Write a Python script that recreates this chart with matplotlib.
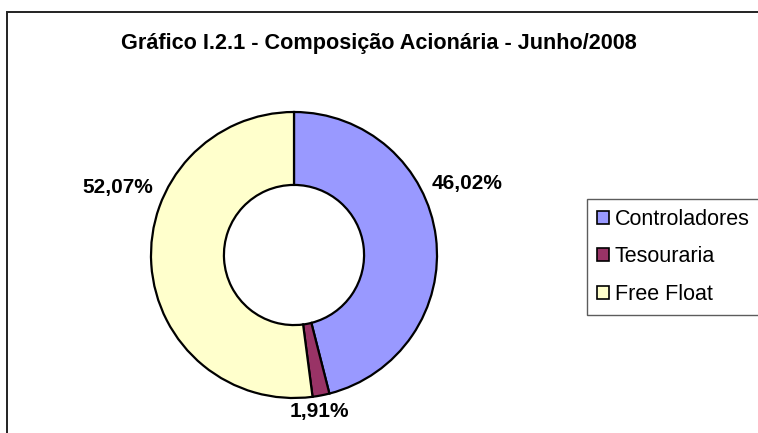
import matplotlib
matplotlib.use("Agg")
import matplotlib.pyplot as plt
from matplotlib.patches import Rectangle

categories = ["Controladores", "Tesouraria", "Free Float"]
values = [46.02, 1.91, 52.07]
labels = ["46,02%", "1,91%", "52,07%"]
colors = ["#9999FF", "#993366", "#FFFFCC"]
title = "Gráfico I.2.1 - Composição Acionária - Junho/2008"

plt.rcParams['font.family'] = ['Liberation Sans', 'DejaVu Sans']

W, H = 758, 433
fig = plt.figure(figsize=(W / 100, H / 100), dpi=100)
ax = fig.add_axes([0, 0, 1, 1])
ax.set_xlim(0, W)
ax.set_ylim(0, H)
ax.set_aspect('equal')
ax.axis('off')

# outer chart frame (left and top visible)
ax.plot([7, 7, W + 5], [-5, H - 12, H - 12], color="#222222", lw=1.4,
        solid_joinstyle='miter', clip_on=False)

cx, cy, r = 294, H - 255, 143
wedges, _ = ax.pie(values, colors=colors, startangle=90, counterclock=False,
                   center=(cx, cy), radius=r, frame=True,
                   wedgeprops=dict(width=r * 0.51, edgecolor="black", linewidth=1.6))
ax.set_xlim(0, W)
ax.set_ylim(0, H)
ax.axis('off')

label_pos = [(467, H - 183), (319, H - 412), (118, H - 188)]
for (x, y), t in zip(label_pos, labels):
    ax.text(x, y, t, ha='center', va='center', fontsize=15, fontweight='bold')

ax.text(379, H - 44, title, ha='center', va='center', fontsize=15.6, fontweight='bold')

handles = [Rectangle((0, 0), 1, 1, facecolor=c, edgecolor='black', linewidth=1.2) for c in colors]
leg = fig.legend(handles, categories, loc='upper left',
                 bbox_to_anchor=(587 / W, 1 - 199 / H, (757 - 587) / W, 0),
                 fontsize=15.5, frameon=True, fancybox=False, borderaxespad=0,
                 handlelength=0.55, handleheight=0.55, handletextpad=0.3,
                 labelspacing=0.78, borderpad=0.45)
leg.get_frame().set_edgecolor('#333333')
leg.get_frame().set_linewidth(1.0)

fig.savefig("out.png", dpi=100)
